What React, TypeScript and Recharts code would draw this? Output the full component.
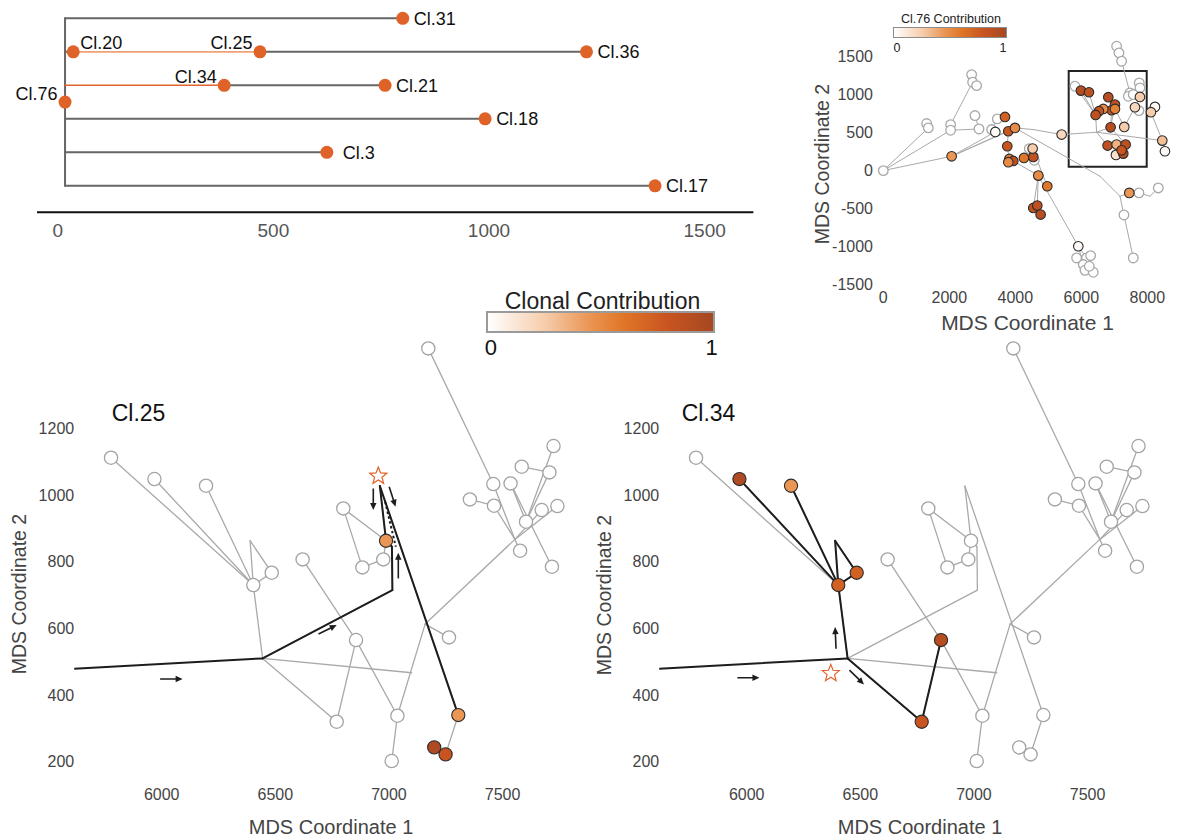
import React from 'react';
import { ScatterChart, Scatter, XAxis, YAxis, ReferenceArea } from 'recharts';

const FONT = '"Liberation Sans", Arial, Helvetica, sans-serif';

// ---------------- Top-left: lineage tree ----------------
const treeClones = ['Cl.76', 'Cl.31', 'Cl.20', 'Cl.25', 'Cl.36', 'Cl.34', 'Cl.21', 'Cl.18', 'Cl.3', 'Cl.17'];
const treeDistance = [17, 800, 36, 469, 1226, 386, 759, 991, 624, 1385];
const treeRow = [2.5, 0, 1, 1, 1, 2, 2, 3, 4, 5];
const treeTicks = [0, 500, 1000, 1500];
// [fromDistance, row, toDistance]
const treeGrayEdges = [[17, 0, 800], [17, 1, 36], [469, 1, 1226], [386, 2, 759], [17, 3, 991], [17, 4, 624], [17, 5, 1385]];
const treeLightEdges = [[36, 1, 469]];
const treeOrangeEdges = [[17, 2, 386]];
const treeTrunk = [[17, 0, 17, 5]];

// ---------------- Top-right: overview MDS ----------------
const overviewTicksX = [0, 2000, 4000, 6000, 8000];
const overviewTicksY = [-1500, -1000, -500, 0, 500, 1000, 1500];
const overviewZoomBox = [5618, 7982, 51, 1309];
const overviewNodes = [
  { x: 0, y: 0, c: 0 }, { x: 1313, y: 618, c: 0 }, { x: 1364, y: 561, c: 0 }, { x: 2040, y: 604, c: 0 },
  { x: 2040, y: 530, c: 0 }, { x: 2677, y: 1261, c: 0 }, { x: 2707, y: 1161, c: 0 }, { x: 2828, y: 1117, c: 0 },
  { x: 2778, y: 723, c: 0 }, { x: 2899, y: 547, c: 0 }, { x: 3454, y: 679, c: 0 }, { x: 3283, y: 539, c: 0 },
  { x: 4424, y: 289, c: 0 }, { x: 4575, y: 136, c: 0 }, { x: 7070, y: 1634, c: 0 }, { x: 7141, y: 1546, c: 0 },
  { x: 7222, y: 1437, c: 0 }, { x: 5808, y: 1108, c: 0 }, { x: 7474, y: 1021, c: 0 }, { x: 7757, y: 1152, c: 0 },
  { x: 7777, y: 1086, c: 0 }, { x: 7424, y: 977, c: 0 }, { x: 7575, y: 999, c: 0 }, { x: 7747, y: 788, c: 0 },
  { x: 7747, y: -293, c: 0 }, { x: 8333, y: -228, c: 0 }, { x: 7292, y: -583, c: 0 }, { x: 7575, y: -1148, c: 0 },
  { x: 5858, y: -1148, c: 0 }, { x: 6161, y: -1148, c: 0 }, { x: 6282, y: -1117, c: 0 }, { x: 6060, y: -1235, c: 0 },
  { x: 6111, y: -1310, c: 0 }, { x: 6363, y: -1336, c: 0 }, { x: 6242, y: -1257, c: 0 },
  { x: 3394, y: 508, c: 0.03 }, { x: 8232, y: 837, c: 0.03 }, { x: 8535, y: 254, c: 0.03 }, { x: 5909, y: -994, c: 0.03 },
  { x: 2071, y: 188, c: 0.45 }, { x: 3687, y: 705, c: 0.72 }, { x: 3788, y: 517, c: 0.78 }, { x: 3990, y: 561, c: 0.5 },
  { x: 3757, y: 320, c: 0.8 }, { x: 3818, y: 153, c: 0.55 }, { x: 3939, y: 127, c: 0.85 }, { x: 3788, y: 110, c: 0.5 },
  { x: 4262, y: 166, c: 0.6 }, { x: 4545, y: 180, c: 0.85 }, { x: 4525, y: 289, c: 0.25 }, { x: 4697, y: -66, c: 0.5 },
  { x: 4969, y: -206, c: 0.6 }, { x: 4545, y: -491, c: 0.85 }, { x: 4666, y: -460, c: 0.85 }, { x: 4767, y: -578, c: 0.9 },
  { x: 5404, y: 473, c: 0.2 }, { x: 7454, y: -293, c: 0.45 }, { x: 8454, y: 394, c: 0.3 }, { x: 8110, y: 767, c: 0.25 },
  { x: 7777, y: 968, c: 0.25 }, { x: 7626, y: 832, c: 0.2 },
  { x: 5989, y: 1051, c: 0.9 }, { x: 6232, y: 1029, c: 0.85 }, { x: 6818, y: 964, c: 0.9 }, { x: 7020, y: 867, c: 0.85 },
  { x: 6919, y: 793, c: 0.8 }, { x: 7020, y: 810, c: 0.55 }, { x: 6666, y: 810, c: 0.5 }, { x: 6535, y: 780, c: 0.8 },
  { x: 6434, y: 731, c: 0.85 }, { x: 6888, y: 569, c: 0.9 }, { x: 7302, y: 574, c: 0.25 }, { x: 6797, y: 329, c: 0.85 },
  { x: 7070, y: 342, c: 0.35 }, { x: 7343, y: 342, c: 0.85 }, { x: 7050, y: 206, c: 0.15 }, { x: 7272, y: 223, c: 0.9 },
  { x: 7222, y: 267, c: 0.8 },
];
const overviewEdges = [
  [0, 0, 1364, 561], [0, 0, 2040, 530], [0, 0, 2071, 188], [1313, 618, 1364, 561], [2040, 530, 2040, 604],
  [2040, 604, 2707, 1161], [2707, 1161, 2677, 1261], [2707, 1161, 2828, 1117], [2040, 530, 2899, 547],
  [2899, 547, 2778, 723], [2071, 188, 3788, 517], [2071, 188, 3990, 561], [2071, 188, 3394, 508],
  [3283, 539, 3454, 679], [3990, 561, 4545, 539], [4545, 539, 5404, 473], [5404, 473, 6464, 504],
  [6464, 504, 8454, 394], [8454, 394, 8535, 254], [6464, 504, 6434, 731], [6464, 504, 6888, 569],
  [6464, 504, 6797, 329], [6888, 569, 7020, 867], [6434, 731, 5989, 1051], [6434, 731, 6232, 1029],
  [7020, 810, 6818, 964], [6797, 329, 7070, 342], [7070, 342, 7050, 206], [7343, 342, 7272, 223],
  [6888, 569, 7343, 342], [7302, 574, 7626, 832], [7626, 832, 7777, 968], [7777, 968, 7757, 1152],
  [7222, 1437, 7474, 1021], [7474, 1021, 7575, 999], [7070, 1634, 7222, 1437], [8110, 767, 8232, 837],
  [8110, 767, 8454, 394], [3990, 561, 6565, -74], [6565, -74, 7171, -337], [7171, -337, 7292, -583],
  [7292, -583, 7575, -1148], [7171, -337, 7454, -293], [7454, -293, 7747, -293], [7747, -293, 8080, -337],
  [8080, -337, 8333, -228], [3939, 127, 4697, -66], [4697, -66, 5909, -994], [5909, -994, 6060, -1235],
  [5909, -994, 6161, -1148], [6161, -1148, 6363, -1336], [4697, -66, 4545, -491], [4697, -66, 4666, -460],
  [4666, -460, 4767, -578], [4525, 289, 4969, -206], [4262, 166, 4525, 289], [3757, 320, 3818, 153],
  [3788, 517, 3757, 320], [5808, 1108, 6434, 731], [6888, 569, 6919, 793], [7302, 574, 7020, 810],
];

// ---------------- Bottom: zoomed network ----------------
const zoomTicksX = [6000, 6500, 7000, 7500];
const zoomTicksY = [200, 400, 600, 800, 1000, 1200];
const netNodes = [
  { id: 'n1', x: 7173, y: 1440 }, { id: 'n2', x: 5777, y: 1112 }, { id: 'n3', x: 5968, y: 1048 },
  { id: 'n4', x: 6195, y: 1028 }, { id: 'n5', x: 6403, y: 730 }, { id: 'n6', x: 6484, y: 767 },
  { id: 'n7', x: 6620, y: 807 }, { id: 'n8', x: 6799, y: 960 }, { id: 'n9', x: 6883, y: 783 },
  { id: 'n10', x: 6975, y: 807 }, { id: 'n11', x: 6855, y: 565 }, { id: 'n12', x: 6770, y: 320 },
  { id: 'n13', x: 7037, y: 338 }, { id: 'n14', x: 7012, y: 202 }, { id: 'n15', x: 7264, y: 573 },
  { id: 'n16', x: 7459, y: 1033 }, { id: 'n17', x: 7535, y: 1035 }, { id: 'n18', x: 7356, y: 987 },
  { id: 'n19', x: 7462, y: 968 }, { id: 'n20', x: 7584, y: 1085 }, { id: 'n21', x: 7706, y: 1068 },
  { id: 'n22', x: 7724, y: 1147 }, { id: 'n23', x: 7672, y: 955 }, { id: 'n24', x: 7741, y: 967 },
  { id: 'n25', x: 7603, y: 920 }, { id: 'n26', x: 7577, y: 833 }, { id: 'n27', x: 7717, y: 785 },
  { id: 'A', x: 6987, y: 863 }, { id: 'B', x: 7305, y: 340 }, { id: 'C', x: 7199, y: 243 }, { id: 'D', x: 7249, y: 222 },
];
const netJunctions = [
  { id: 'in', x: 5615, y: 479 }, { id: 'J1', x: 6444, y: 510 }, { id: 'J2', x: 7015, y: 715 },
  { id: 'Q', x: 7013, y: 845 }, { id: 'J4', x: 7100, y: 467 }, { id: 'J5', x: 7159, y: 613 },
  { id: 'J6', x: 7554, y: 867 }, { id: 'P', x: 6389, y: 863 }, { id: 'apex', x: 6960, y: 1027 },
];
const netEdges = [
  ['n2', 'n5'], ['n3', 'n5'], ['n4', 'n5'], ['n5', 'P'], ['P', 'n6'], ['n5', 'n6'], ['n5', 'J1'],
  ['J1', 'J4'], ['J1', 'n12'], ['n12', 'n11'], ['n7', 'n11'], ['n11', 'n13'], ['n13', 'n14'],
  ['n13', 'J5'], ['J5', 'n15'], ['J5', 'J6'], ['J6', 'n23'], ['J6', 'n24'], ['J6', 'n19'],
  ['n18', 'n19'], ['J6', 'n26'], ['n1', 'n16'], ['n16', 'J6'], ['n17', 'n27'], ['n17', 'n25'],
  ['n25', 'n22'], ['n25', 'n21'], ['n20', 'n21'], ['n8', 'n9'], ['n9', 'n10'], ['n8', 'A'],
  ['n10', 'A'], ['J1', 'J2'], ['J2', 'Q'], ['Q', 'A'], ['A', 'apex'], ['apex', 'B'], ['B', 'D'],
];

const cl25Contribution: Record<string, number> = { A: 0.45, B: 0.45, C: 0.95, D: 0.8 };
const cl25Path = [['in', 'J1'], ['J1', 'J2'], ['J2', 'Q'], ['Q', 'A'], ['A', 'apex'], ['apex', 'B']];
const cl25Dotted = [[6983, 980, 7030, 845]];
const cl25Arrows = [
  [5993, 448, 6092, 448], [6690, 583, 6770, 610], [6931, 1020, 6931, 955],
  [7001, 1025, 7029, 965], [7041, 750, 7041, 827],
];
const cl25Star = [{ x: 6953, y: 1057 }];

const cl34Contribution: Record<string, number> = { n3: 0.95, n4: 0.45, n5: 0.72, n6: 0.72, n11: 0.9, n12: 0.8 };
const cl34Path = [
  ['in', 'J1'], ['J1', 'n5'], ['n5', 'P'], ['P', 'n6'], ['n5', 'n6'], ['n5', 'n3'], ['n5', 'n4'],
  ['J1', 'n12'], ['n12', 'n11'],
];
const cl34Dotted: number[][] = [];
const cl34Arrows = [[5959, 452, 6056, 452], [6393, 539, 6389, 604], [6452, 475, 6516, 432]];
const cl34Star = [{ x: 6370, y: 465 }];

// ---------------- helpers ----------------
const STOPS = [
  { t: 0, c: [255, 255, 255] },
  { t: 0.25, c: [246, 205, 172] },
  { t: 0.45, c: [234, 150, 84] },
  { t: 0.6, c: [224, 118, 40] },
  { t: 0.8, c: [200, 84, 32] },
  { t: 1, c: [165, 72, 34] },
];
const GRADIENT = 'linear-gradient(to right, #ffffff 0%, #f6cdac 25%, #ea9654 45%, #e07628 60%, #c85420 80%, #a54822 100%)';

function contributionColor(v: number): string {
  const t = Math.max(0, Math.min(1, v));
  for (let i = 1; i < STOPS.length; i++) {
    if (t <= STOPS[i].t) {
      const a = STOPS[i - 1], b = STOPS[i];
      const f = (t - a.t) / (b.t - a.t);
      const c = a.c.map((ch, k) => Math.round(ch + (b.c[k] - ch) * f));
      return `rgb(${c[0]},${c[1]},${c[2]})`;
    }
  }
  return 'rgb(165,72,34)';
}

type Pt = { x: number; y: number };
const flatten = (segs: number[][]): Pt[] => segs.flatMap((s) => [{ x: s[0], y: s[1] }, { x: s[2], y: s[3] }]);

const netLookup: Record<string, Pt> = {};
[...netNodes, ...netJunctions].forEach((n) => { netLookup[n.id] = { x: n.x, y: n.y }; });
const edgeSegs = (edges: string[][]): number[][] =>
  edges.map(([a, b]) => [netLookup[a].x, netLookup[a].y, netLookup[b].x, netLookup[b].y]);

const treeSegs = (edges: number[][]): number[][] => edges.map(([a, r, b]) => [a, r, b, r]);

const emptyShape = () => <g />;

function segmentLine(stroke: string, width: number, dash?: string) {
  return (props: any) => {
    const pts = props.points || [];
    const out: React.ReactNode[] = [];
    for (let i = 0; i + 1 < pts.length; i += 2) {
      out.push(
        <line key={i} x1={pts[i].x} y1={pts[i].y} x2={pts[i + 1].x} y2={pts[i + 1].y}
          stroke={stroke} strokeWidth={width} strokeDasharray={dash} strokeLinecap={dash ? 'butt' : 'round'} />
      );
    }
    return <g>{out}</g>;
  };
}

function arrowLine(stroke: string, width: number) {
  return (props: any) => {
    const pts = props.points || [];
    const out: React.ReactNode[] = [];
    for (let i = 0; i + 1 < pts.length; i += 2) {
      const p = pts[i], q = pts[i + 1];
      const dx = q.x - p.x, dy = q.y - p.y;
      const len = Math.sqrt(dx * dx + dy * dy) || 1;
      const ux = dx / len, uy = dy / len;
      const hl = 7, hw = 3.2;
      const bx = q.x - ux * hl, by = q.y - uy * hl;
      out.push(
        <g key={i}>
          <line x1={p.x} y1={p.y} x2={bx + ux * 1} y2={by + uy * 1} stroke={stroke} strokeWidth={width} />
          <polygon points={`${q.x},${q.y} ${bx - uy * hw},${by + ux * hw} ${bx + uy * hw},${by - ux * hw}`} fill={stroke} />
        </g>
      );
    }
    return <g>{out}</g>;
  };
}

function starShape(p: any) {
  const R = 9, r = 3.9;
  const pts: string[] = [];
  for (let i = 0; i < 10; i++) {
    const rad = i % 2 === 0 ? R : r;
    const a = -Math.PI / 2 + (i * Math.PI) / 5;
    pts.push(`${p.cx + rad * Math.cos(a)},${p.cy + rad * Math.sin(a)}`);
  }
  return <polygon points={pts.join(' ')} fill="#ffffff" stroke="#e0622a" strokeWidth={1.2} strokeLinejoin="miter" />;
}

function nodeShape(radius: number, grayStroke: string) {
  return (p: any) => {
    const c = p.payload.c as number;
    return (
      <circle cx={p.cx} cy={p.cy} r={radius} fill={contributionColor(c)}
        stroke={c > 0 ? '#2b2b2b' : grayStroke} strokeWidth={c > 0 ? 1.1 : 1.3} />
    );
  };
}

const treeLabelPlacement: Record<string, string> = {
  'Cl.76': 'leftUp', 'Cl.20': 'aboveRight', 'Cl.25': 'aboveLeft', 'Cl.34': 'aboveLeft', 'Cl.3': 'rightWide',
};

function treeNodeShape(p: any) {
  const name = p.payload.name as string;
  const place = treeLabelPlacement[name] || 'right';
  let tx = p.cx + 11, ty = p.cy + 6.3;
  let anchor: 'start' | 'end' = 'start';
  if (place === 'aboveRight') { tx = p.cx + 7; ty = p.cy - 9 + 6.3; }
  else if (place === 'aboveLeft') { tx = p.cx - 7.5; ty = p.cy - 9 + 6.3; anchor = 'end'; }
  else if (place === 'leftUp') { tx = p.cx - 7.5; ty = p.cy - 8 + 6.3; anchor = 'end'; }
  else if (place === 'rightWide') { tx = p.cx + 16; }
  return (
    <g>
      <circle cx={p.cx} cy={p.cy} r={6.5} fill="#df6228" />
      <text x={tx} y={ty} textAnchor={anchor} fontSize={18} fill="#111" fontFamily={FONT}>{name}</text>
    </g>
  );
}

const abs = (style: React.CSSProperties): React.CSSProperties => ({ position: 'absolute', ...style });

function CenterText(props: { x: number; y: number; size: number; color?: string; rotate?: boolean; children: React.ReactNode }) {
  return (
    <div style={abs({
      left: props.x, top: props.y, fontSize: props.size, lineHeight: 1, color: props.color || '#444',
      whiteSpace: 'nowrap', transform: `translate(-50%, -50%)${props.rotate ? ' rotate(-90deg)' : ''}`,
    })}>{props.children}</div>
  );
}

// ---------------- panels ----------------
function TreePanel() {
  const nodes = treeClones.map((name, i) => ({ name, x: treeDistance[i], y: treeRow[i] }));
  return (
    <div style={abs({ left: 0, top: 0 })}>
      <ScatterChart width={760} height={250} margin={{ top: 1.55, right: 6.6, bottom: 7.7, left: 37 }}>
        <XAxis type="number" dataKey="x" domain={[-48, 1613]} ticks={treeTicks} interval={0}
          axisLine={{ stroke: '#111', strokeWidth: 2 }} tickLine={false} tickSize={0} tickMargin={11} height={30}
          tick={{ fontSize: 19, fill: '#555', fontFamily: FONT }} />
        <YAxis type="number" dataKey="y" domain={[-0.5, 5.791]} reversed hide />
        <Scatter data={flatten(treeTrunk)} shape={emptyShape} line={segmentLine('#666', 2)} isAnimationActive={false} />
        <Scatter data={flatten(treeSegs(treeGrayEdges))} shape={emptyShape} line={segmentLine('#666', 2)} isAnimationActive={false} />
        <Scatter data={flatten(treeSegs(treeLightEdges))} shape={emptyShape} line={segmentLine('#f0a274', 1.8)} isAnimationActive={false} />
        <Scatter data={flatten(treeSegs(treeOrangeEdges))} shape={emptyShape} line={segmentLine('#e0642e', 1.6)} isAnimationActive={false} />
        <Scatter data={nodes} shape={treeNodeShape} isAnimationActive={false} />
      </ScatterChart>
    </div>
  );
}

function OverviewPanel() {
  return (
    <div style={abs({ left: 800, top: 0 })}>
      <ScatterChart width={382} height={340} margin={{ top: 33.6, right: 5, bottom: 20.7, left: 17 }}>
        <XAxis type="number" dataKey="x" domain={[-191, 8900]} allowDataOverflow ticks={overviewTicksX} interval={0}
          axisLine={false} tickLine={false} tickSize={0} tickMargin={2} height={30}
          tick={{ fontSize: 16, fill: '#444', fontFamily: FONT }} />
        <YAxis type="number" dataKey="y" domain={[-1560, 1800]} allowDataOverflow ticks={overviewTicksY} interval={0}
          axisLine={false} tickLine={false} tickSize={0} tickMargin={4} width={60}
          tick={{ fontSize: 16, fill: '#444', fontFamily: FONT }} />
        <Scatter data={flatten(overviewEdges)} shape={emptyShape} line={segmentLine('#a9a9a9', 1)} isAnimationActive={false} />
        <Scatter data={overviewNodes} shape={nodeShape(4.8, '#a8a8a8')} isAnimationActive={false} />
        <ReferenceArea x1={overviewZoomBox[0]} x2={overviewZoomBox[1]} y1={overviewZoomBox[2]} y2={overviewZoomBox[3]}
          fill="none" fillOpacity={0} stroke="#222" strokeWidth={2} ifOverflow="visible" />
      </ScatterChart>
    </div>
  );
}

function ZoomPanel(props: {
  left: number; width: number; marginRight: number; contribution: Record<string, number>;
  path: string[][]; dotted: number[][]; arrows: number[][]; star: Pt[];
}) {
  const nodes = netNodes.map((n) => ({ x: n.x, y: n.y, c: props.contribution[n.id] || 0 }));
  return (
    <div style={abs({ left: props.left, top: 300 })}>
      <ScatterChart width={props.width} height={538} margin={{ top: 38.4, right: props.marginRight, bottom: 29.6, left: 14.2 }}>
        <XAxis type="number" dataKey="x" domain={[5615, 7800]} allowDataOverflow ticks={zoomTicksX} interval={0}
          axisLine={false} tickLine={false} tickSize={0} tickMargin={10} height={30}
          tick={{ fontSize: 16, fill: '#444', fontFamily: FONT }} />
        <YAxis type="number" dataKey="y" domain={[150, 1470]} allowDataOverflow ticks={zoomTicksY} interval={0}
          axisLine={false} tickLine={false} tickSize={0} tickMargin={0} width={60}
          tick={{ fontSize: 16, fill: '#444', fontFamily: FONT }} />
        <Scatter data={flatten(edgeSegs(netEdges))} shape={emptyShape} line={segmentLine('#a9a9a9', 1.3)} isAnimationActive={false} />
        <Scatter data={flatten(edgeSegs(props.path))} shape={emptyShape} line={segmentLine('#1d1d1d', 2)} isAnimationActive={false} />
        {props.dotted.length > 0 && (
          <Scatter data={flatten(props.dotted)} shape={emptyShape} line={segmentLine('#1d1d1d', 2, '2.5 2.5')} isAnimationActive={false} />
        )}
        <Scatter data={flatten(props.arrows)} shape={emptyShape} line={arrowLine('#1d1d1d', 1.6)} isAnimationActive={false} />
        <Scatter data={nodes} shape={nodeShape(6.6, '#a3a3a3')} isAnimationActive={false} />
        <Scatter data={props.star} shape={starShape} isAnimationActive={false} />
      </ScatterChart>
    </div>
  );
}

export default function App() {
  return (
    <div style={abs({ left: 0, top: 0, width: 1182, height: 838, background: '#fff', overflow: 'hidden', fontFamily: FONT })}>
      <TreePanel />
      <OverviewPanel />
      <ZoomPanel left={0} width={600} marginRight={29.2} contribution={cl25Contribution}
        path={cl25Path} dotted={cl25Dotted} arrows={cl25Arrows} star={cl25Star} />
      <ZoomPanel left={585} width={597} marginRight={26.2} contribution={cl34Contribution}
        path={cl34Path} dotted={cl34Dotted} arrows={cl34Arrows} star={cl34Star} />

      {/* Overview legend */}
      <CenterText x={951} y={19} size={12.5} color="#222">Cl.76 Contribution</CenterText>
      <div style={abs({ left: 893, top: 26.5, width: 114, height: 11.5, background: GRADIENT, border: '1.5px solid #8c8c8c', boxSizing: 'border-box' })} />
      <CenterText x={897} y={47.5} size={12.5} color="#222">0</CenterText>
      <CenterText x={1003} y={47.5} size={12.5} color="#222">1</CenterText>
      <CenterText x={1027.5} y={321.7} size={21}>MDS Coordinate 1</CenterText>
      <CenterText x={823} y={164} size={19.5} rotate>MDS Coordinate 2</CenterText>

      {/* Clonal contribution legend */}
      <CenterText x={602.5} y={300.7} size={23} color="#222">Clonal Contribution</CenterText>
      <div style={abs({ left: 486, top: 310.7, width: 229, height: 22, background: GRADIENT, border: '2px solid #9a9a9a', boxSizing: 'border-box' })} />
      <CenterText x={490.8} y={348.3} size={22} color="#111">0</CenterText>
      <CenterText x={711.5} y={348.3} size={22} color="#111">1</CenterText>

      {/* Bottom panel titles */}
      <div style={abs({ left: 111.7, top: 413, transform: 'translateY(-50%)', fontSize: 23, lineHeight: 1, color: '#111' })}>Cl.25</div>
      <div style={abs({ left: 681.7, top: 413, transform: 'translateY(-50%)', fontSize: 23, lineHeight: 1, color: '#111' })}>Cl.34</div>
      <CenterText x={331} y={826.7} size={20}>MDS Coordinate 1</CenterText>
      <CenterText x={20} y={594} size={19.5} rotate>MDS Coordinate 2</CenterText>
      <CenterText x={920} y={826.7} size={20}>MDS Coordinate 1</CenterText>
      <CenterText x={605} y={595} size={19.5} rotate>MDS Coordinate 2</CenterText>
    </div>
  );
}
